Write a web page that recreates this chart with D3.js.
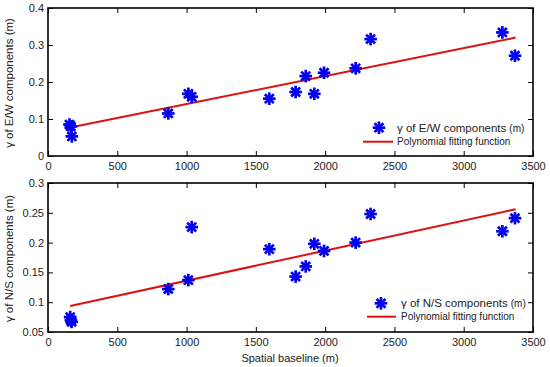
<!DOCTYPE html>
<html><head><meta charset="utf-8">
<script src="https://cdn.jsdelivr.net/npm/d3@7/dist/d3.min.js"></script>
<style>body{margin:0;background:#fff}svg{display:block}text{font-family:"Liberation Sans",Arial,sans-serif}</style>
</head><body>
<script>
const baseline = [155, 165, 172, 868, 1013, 1037, 1597, 1787, 1860, 1922, 1992, 2220, 2328, 3279, 3370];
const ewValues = [0.085, 0.080, 0.053, 0.115, 0.168, 0.160, 0.155, 0.173, 0.216, 0.168, 0.225, 0.237, 0.316, 0.334, 0.271];
const nsBaseline = [160, 165, 170, 868, 1013, 1037, 1597, 1787, 1860, 1922, 1992, 2220, 2328, 3279, 3370];
const nsValues = [0.075, 0.070, 0.067, 0.122, 0.137, 0.226, 0.189, 0.143, 0.160, 0.198, 0.186, 0.200, 0.248, 0.219, 0.241];
const fitX = [160, 3375];
const fitEW = [0.077, 0.320];
const fitNS = [0.0936, 0.256];
const xTicks = [0, 500, 1000, 1500, 2000, 2500, 3000, 3500];
const ewTicks = [0, 0.1, 0.2, 0.3, 0.4];
const nsTicks = [0.05, 0.1, 0.15, 0.2, 0.25, 0.3];

const W = 550, H = 367;
const svg = d3.select("body").append("svg").attr("width", W).attr("height", H);
const x = d3.scaleLinear().domain([0, 3500]).range([48, 533]);

function star(g, cx, cy) {
  const r = 6.3;
  for (let i = 0; i < 4; i++) {
    const a = i * Math.PI / 4;
    g.append("line").attr("x1", cx - r * Math.cos(a)).attr("y1", cy - r * Math.sin(a))
      .attr("x2", cx + r * Math.cos(a)).attr("y2", cy + r * Math.sin(a))
      .attr("stroke", "#0000ee").attr("stroke-width", 2.7);
  }
}

function panel(top, bottom, yDomain, yTicks, yFmt, xs, ys, fitY, label, legY) {
  const y = d3.scaleLinear().domain(yDomain).range([bottom, top]);
  const g = svg.append("g");
  const tl = 5;
  const ax = g.append("g").attr("transform", `translate(0,${bottom})`)
    .call(d3.axisBottom(x).tickValues(xTicks).tickSize(-tl).tickPadding(6).tickFormat(d3.format("d")));
  const axT = g.append("g").attr("transform", `translate(0,${top})`)
    .call(d3.axisTop(x).tickValues(xTicks).tickSize(-tl).tickFormat(""));
  const ay = g.append("g").attr("transform", `translate(48,0)`)
    .call(d3.axisLeft(y).tickValues(yTicks).tickSize(-tl).tickPadding(4).tickFormat(yFmt));
  const ayR = g.append("g").attr("transform", `translate(533,0)`)
    .call(d3.axisRight(y).tickValues(yTicks).tickSize(-tl).tickFormat(""));
  [ax, axT, ay, ayR].forEach(a => {
    a.select(".domain").remove();
    a.selectAll(".tick line").attr("stroke", "#000").attr("stroke-width", 1);
    a.selectAll("text").attr("font-size", 11).attr("fill", "#222").attr("font-family", '"Liberation Sans",Arial,sans-serif');
  });
  g.append("rect").attr("x", 48).attr("y", top).attr("width", 485).attr("height", bottom - top)
    .attr("fill", "none").attr("stroke", "#000").attr("stroke-width", 1.6);
  g.append("path").datum(fitX.map((v, i) => [v, fitY[i]]))
    .attr("d", d3.line().x(d => x(d[0])).y(d => y(d[1])))
    .attr("stroke", "#dd1111").attr("stroke-width", 2).attr("fill", "none");
  xs.forEach((v, i) => star(g, x(v), y(ys[i])));
  g.append("text").attr("transform", `translate(13,${(top + bottom) / 2 + 1}) rotate(-90)`)
    .attr("text-anchor", "middle").attr("font-size", 11.5).attr("fill", "#222").text(label);
  star(g, legY.sx, legY.sy);
  const lt = g.append("text").attr("x", legY.tx).attr("y", legY.sy + 4).attr("font-size", 11.5).attr("fill", "#222");
  lt.append("tspan").text(legY.name);
  lt.append("tspan").attr("dx", 3).attr("font-size", 10).text("(m)");
  g.append("line").attr("x1", legY.lx1).attr("x2", legY.lx2).attr("y1", legY.ly).attr("y2", legY.ly)
    .attr("stroke", "#dd1111").attr("stroke-width", 2);
  g.append("text").attr("x", legY.tx).attr("y", legY.ly + 3.5).attr("font-size", 10).attr("fill", "#222")
    .text("Polynomial fitting function");
}

panel(8, 156, [0, 0.4], ewTicks, d3.format(".1~f"), baseline, ewValues, fitEW, "γ of E/W components (m)",
  {sx: 379, sy: 127.7, tx: 397, name: "γ of E/W components", lx1: 363, lx2: 393, ly: 141.7});
panel(183, 332, [0.05, 0.3], nsTicks, d3.format(".2~f"), nsBaseline, nsValues, fitNS, "γ of N/S components (m)",
  {sx: 381, sy: 303.3, tx: 401, name: "γ of N/S components", lx1: 367, lx2: 396, ly: 316.7});

svg.append("text").attr("x", 290).attr("y", 362).attr("text-anchor", "middle").attr("font-size", 11).attr("fill", "#222")
  .text("Spatial baseline (m)");
</script>
</body></html>
